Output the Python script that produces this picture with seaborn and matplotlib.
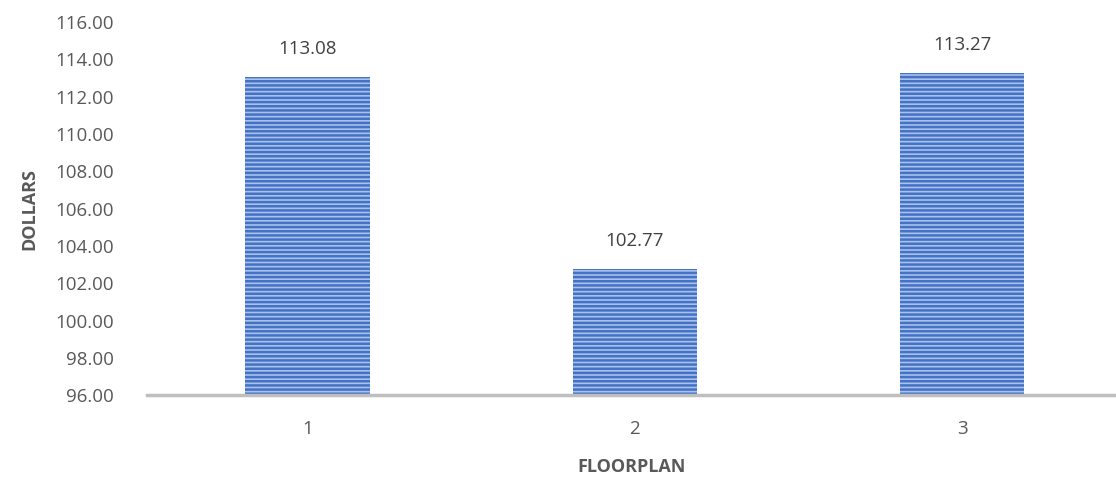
import matplotlib
matplotlib.use("Agg")
import matplotlib.pyplot as plt
import seaborn as sns
import pandas as pd

floorplan = ["1", "2", "3"]
dollars = [113.08, 102.77, 113.27]
y_ticks = [96, 98, 100, 102, 104, 106, 108, 110, 112, 114, 116]

sns.set_style("white")
plt.rcParams["font.family"] = ["Open Sans", "DejaVu Sans"]
plt.rcParams["hatch.linewidth"] = 1.8

grey = "#595959"
df = pd.DataFrame({"floorplan": floorplan, "dollars": dollars})

fig = plt.figure(figsize=(11.16, 4.79), dpi=100)
ax = fig.add_axes([0.132, 0.175, 0.868, 0.779])
sns.barplot(data=df, x="floorplan", y="dollars", color="#A9C1EC",
            width=0.38, ax=ax, saturation=1)

for p in ax.patches:
    p.set_hatch("----")
    p.set_edgecolor("#4472C4")
    p.set_linewidth(0)

ax.set_ylim(96, 116)
ax.set_xlim(-0.49, 2.47)
ax.set_yticks(y_ticks)
ax.set_yticklabels([f"{v:.2f}" for v in y_ticks], color=grey, fontsize=13.5)
ax.tick_params(axis="x", colors=grey, labelsize=13.5, length=0, pad=18)
ax.tick_params(axis="y", length=0, pad=24)

for i, v in enumerate(dollars):
    ax.text(i, v + 1.0, f"{v:.2f}", ha="center", va="bottom",
            color="#404040", fontsize=13.5)

for s in ["top", "right", "left"]:
    ax.spines[s].set_visible(False)
ax.spines["bottom"].set_color("#BFBFBF")
ax.spines["bottom"].set_linewidth(2.5)

ax.set_xlabel("FLOORPLAN", fontsize=13, fontweight="bold", color=grey, labelpad=14)
ax.set_ylabel("DOLLARS", fontsize=13, fontweight="bold", color=grey, labelpad=12)

fig.savefig("out.png", dpi=100)
